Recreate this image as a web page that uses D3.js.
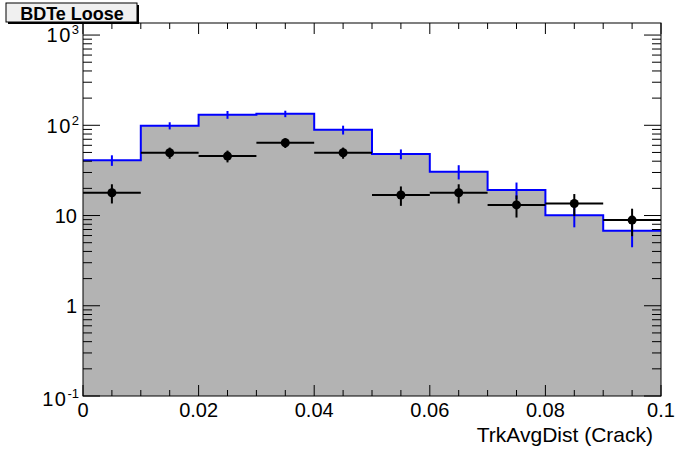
<!DOCTYPE html>
<html>
<head>
<meta charset="utf-8">
<script src="https://cdn.jsdelivr.net/npm/d3@7"></script>
<style>
  html, body { margin: 0; padding: 0; background: #ffffff; }
  svg { display: block; font-family: "Liberation Sans", Arial, Helvetica, sans-serif; }
</style>
</head>
<body>
<svg id="chart" width="696" height="472"></svg>
<script>
// ---- Data ----
const binEdges = [0, 0.01, 0.02, 0.03, 0.04, 0.05, 0.06, 0.07, 0.08, 0.09, 0.1];
const mcValues = [41, 99, 131, 134, 89, 48, 30.6, 19.2, 10.1, 6.8];
const mcErrors = [5.5, 9, 13, 11, 10, 6, 5.5, 4, 2.7, 2.35];
const dataValues = [17.9, 49.6, 45.6, 64, 49.6, 16.9, 17.9, 13.1, 13.6, 8.9];
const dataErrors = [4.3, 7, 6.8, 8, 7, 4.1, 4.3, 3.6, 3.7, 3];
const xMajorTicks = [0, 0.02, 0.04, 0.06, 0.08, 0.1];
const xTickLabels = ["0", "0.02", "0.04", "0.06", "0.08", "0.1"];
const xMinorTicks = [0.005, 0.01, 0.015, 0.025, 0.03, 0.035, 0.045, 0.05, 0.055, 0.065, 0.07, 0.075, 0.085, 0.09, 0.095];
const yMajorTicks = [0.1, 1, 10, 100, 1000];
const yTickBase = ["10", "1", "10", "10", "10"];
const yTickExp = ["-1", "", "", "2", "3"];
const yMinorMultipliers = [2, 3, 4, 5, 6, 7, 8, 9];
const yDomain = [0.1, 1360];
const xTitle = "TrkAvgDist (Crack)";
const plotTitle = "BDTe Loose";

// ---- Layout ----
const L = 83, R = 661, T = 23, B = 396;
const svg = d3.select("#chart");
const x = d3.scaleLinear().domain([0, 0.1]).range([L, R]);
const y = d3.scaleLog().domain(yDomain).range([B, T]);

const nb = mcValues.length;
const bins = d3.range(nb).map(i => ({
  x0: binEdges[i], x1: binEdges[i + 1], xc: (binEdges[i] + binEdges[i + 1]) / 2,
  mc: mcValues[i], mce: mcErrors[i], d: dataValues[i], de: dataErrors[i]
}));

// ---- MC histogram fill ----
const fillPts = [[x(binEdges[0]), y(yDomain[0])]];
bins.forEach(b => { fillPts.push([x(b.x0), y(b.mc)]); fillPts.push([x(b.x1), y(b.mc)]); });
fillPts.push([x(binEdges[nb]), y(yDomain[0])]);
svg.append("path").attr("d", d3.line()(fillPts)).attr("fill", "#b3b3b3").attr("stroke", "none");

// ---- MC step outline ----
const linePts = [];
bins.forEach(b => { linePts.push([x(b.x0), y(b.mc)]); linePts.push([x(b.x1), y(b.mc)]); });
svg.append("path").attr("d", d3.line()(linePts)).attr("fill", "none")
  .attr("stroke", "#0000ff").attr("stroke-width", 2);

// ---- MC error bars ----
svg.append("g").selectAll("line").data(bins).join("line")
  .attr("x1", b => x(b.xc)).attr("x2", b => x(b.xc))
  .attr("y1", b => y(b.mc + b.mce)).attr("y2", b => y(b.mc - b.mce))
  .attr("stroke", "#0000ff").attr("stroke-width", 2);

// ---- Data points ----
const dg = svg.append("g");
dg.selectAll("line.h").data(bins).join("line").attr("class", "h")
  .attr("x1", b => x(b.x0)).attr("x2", b => x(b.x1))
  .attr("y1", b => y(b.d)).attr("y2", b => y(b.d))
  .attr("stroke", "#000").attr("stroke-width", 2);
dg.selectAll("line.v").data(bins).join("line").attr("class", "v")
  .attr("x1", b => x(b.xc)).attr("x2", b => x(b.xc))
  .attr("y1", b => y(b.d + b.de)).attr("y2", b => y(b.d - b.de))
  .attr("stroke", "#000").attr("stroke-width", 2);
dg.selectAll("circle").data(bins).join("circle")
  .attr("cx", b => x(b.xc)).attr("cy", b => y(b.d)).attr("r", 4.5)
  .attr("fill", "#000");

// ---- Frame ----
svg.append("rect").attr("x", L).attr("y", T).attr("width", R - L).attr("height", B - T)
  .attr("fill", "none").attr("stroke", "#000").attr("stroke-width", 1);

// ---- Ticks ----
const tk = svg.append("g").attr("stroke", "#000").attr("stroke-width", 1);
xMajorTicks.forEach(v => {
  tk.append("line").attr("x1", x(v)).attr("x2", x(v)).attr("y1", B).attr("y2", B - 11);
  tk.append("line").attr("x1", x(v)).attr("x2", x(v)).attr("y1", T).attr("y2", T + 11);
});
xMinorTicks.forEach(v => {
  tk.append("line").attr("x1", x(v)).attr("x2", x(v)).attr("y1", B).attr("y2", B - 6);
  tk.append("line").attr("x1", x(v)).attr("x2", x(v)).attr("y1", T).attr("y2", T + 6);
});
yMajorTicks.forEach(v => {
  tk.append("line").attr("x1", L).attr("x2", L + 17).attr("y1", y(v)).attr("y2", y(v));
  tk.append("line").attr("x1", R).attr("x2", R - 17).attr("y1", y(v)).attr("y2", y(v));
});
yMajorTicks.forEach(d => {
  yMinorMultipliers.forEach(m => {
    const v = d * m;
    if (v > yDomain[1]) return;
    tk.append("line").attr("x1", L).attr("x2", L + 9).attr("y1", y(v)).attr("y2", y(v));
    tk.append("line").attr("x1", R).attr("x2", R - 9).attr("y1", y(v)).attr("y2", y(v));
  });
});

// ---- Tick labels ----
xMajorTicks.forEach((v, i) => {
  svg.append("text").attr("x", x(v)).attr("y", 417).attr("text-anchor", "middle")
    .attr("font-size", 20).text(xTickLabels[i]);
});
yMajorTicks.forEach((v, i) => {
  const t = svg.append("text").attr("text-anchor", "end").attr("font-size", 20);
  if (yTickExp[i]) {
    t.attr("x", 79).attr("y", y(v) + (v < 1 ? 10 : (v > 500 ? 7 : 8)));
    t.append("tspan").attr("letter-spacing", 1.5).text(yTickBase[i]);
    t.append("tspan").attr("font-size", 13).attr("dy", -8).text(yTickExp[i]);
  } else {
    t.attr("x", 77).attr("y", y(v) + 7).text(yTickBase[i]);
  }
});

// ---- Axis title ----
svg.append("text").attr("x", 653).attr("y", 442).attr("text-anchor", "end")
  .attr("font-size", 21).text(xTitle);

// ---- Title box ----
svg.append("rect").attr("x", 8).attr("y", 5).attr("width", 131).attr("height", 19).attr("fill", "#000");
svg.append("rect").attr("x", 6).attr("y", 3).attr("width", 131).attr("height", 19)
  .attr("fill", "#f0f0f0").attr("stroke", "#000").attr("stroke-width", 1);
svg.append("text").attr("x", 72).attr("y", 19.5).attr("text-anchor", "middle")
  .attr("font-size", 18).attr("font-weight", "bold").text(plotTitle);
</script>
</body>
</html>
